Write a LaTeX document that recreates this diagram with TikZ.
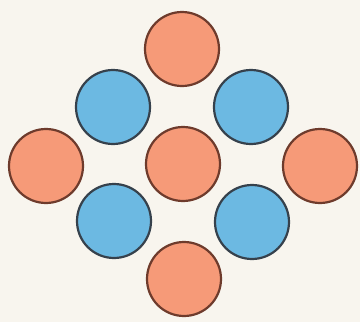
\documentclass[tikz,border=0pt]{standalone}
\usepackage{tikz}
\definecolor{bg}{HTML}{F8F5EE}
\definecolor{orfill}{HTML}{F69A78}
\definecolor{orline}{HTML}{6E3B2C}
\definecolor{blfill}{HTML}{6CB9E2}
\definecolor{blline}{HTML}{36414C}
\tikzset{
  orange disc/.style={circle, draw=orline, fill=orfill, line width=2.2pt, minimum size=74pt, inner sep=0pt},
  blue disc/.style={circle, draw=blline, fill=blfill, line width=2.2pt, minimum size=74pt, inner sep=0pt}
}
\begin{document}
\begin{tikzpicture}[x=1pt,y=-1pt]
\fill[bg] (0,0) rectangle (360,322);
\useasboundingbox (0,0) rectangle (360,322);
\node[orange disc] (top) at (182,49) {};
\node[blue disc] (ul) at (113,107) {};
\node[blue disc] (ur) at (251,107) {};
\node[orange disc] (left) at (46,166) {};
\node[orange disc] (mid) at (183,164) {};
\node[orange disc] (right) at (320,166) {};
\node[blue disc] (ll) at (114,221) {};
\node[blue disc] (lr) at (252,222) {};
\node[orange disc] (bot) at (184,279) {};
\end{tikzpicture}
\end{document}
